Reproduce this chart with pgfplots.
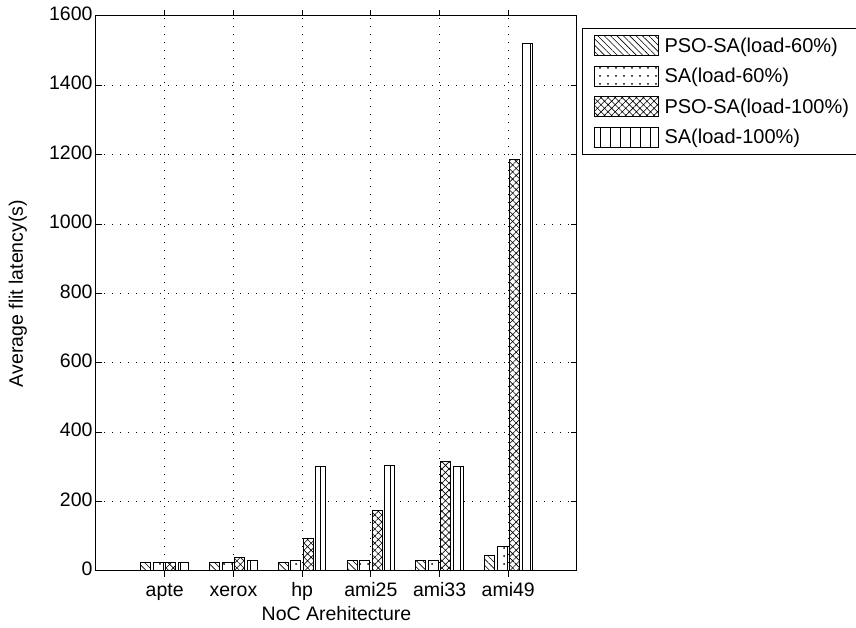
\documentclass[border=0pt]{standalone}
\usepackage{fontspec}
\setmainfont{Liberation Sans}
\usepackage{pgfplots}
\usepackage{pgfplotstable}
\pgfplotsset{compat=1.18}
\usetikzlibrary{patterns.meta}

\pgfplotsset{/pgfplots/ybar legend/.style={/pgfplots/legend image code/.code={\draw[##1] (0pt,-10pt) rectangle (64pt,10pt);}}}

\pgfplotstableread{
x a b c d
1 24 24 24 24
2 24 24 38 30
3 24 30 93 300
4 30 30 173 305
5 30 30 317 302
6 44 70 1185 1520
}\data

\newcommand{\ff}{\fontsize{19.5}{23}\selectfont}
\newcommand{\fl}{\fontsize{20}{23}\selectfont}

\begin{document}
\begin{tikzpicture}
\begin{axis}[
  name=ax,
  scale only axis,
  width=481pt, height=555pt,
  xmin=0, xmax=7, ymin=0, ymax=1600,
  xtick={1,2,3,4,5,6},
  xticklabels={apte,xerox,hp,ami25,ami33,ami49},
  ytick={0,200,400,600,800,1000,1200,1400,1600},
  scaled y ticks=false,
  yticklabel style={/pgf/number format/.cd,1000 sep={},assume math mode=true},
  typeset ticklabels with strut,
  tick label style={font=\ff},
  label style={font=\ff},
  xlabel={NoC Arehitecture},
  ylabel={Average flit latency(s)},
  xlabel style={at={(axis description cs:0.5,0)},anchor=base,yshift=-50pt},
  ylabel style={at={(axis description cs:0,0.5)},anchor=base,yshift=73pt},
  tick align=inside,
  major tick length=6pt,
  tick style={black,line width=1pt},
  axis line style={black,line width=1pt},
  xmajorgrids, ymajorgrids,
  grid style={black,line width=1pt,dash pattern=on 1pt off 7pt},
  ybar, bar width=0.145, bar shift=0pt,
  every axis plot/.append style={draw=black,fill=white,line width=1pt},
  legend image code/.code={\draw[#1] (0pt,-10pt) rectangle (64pt,10pt);},
  legend style={at={(1.0104,0.979)},anchor=north west,draw=black,line width=1pt,
    font=\fl,nodes={inner sep=0pt,anchor=west},row sep=9.5pt,column sep=6pt,
    inner xsep=11pt,inner ysep=7pt},
  legend cell align=left,
]
\addplot[postaction={pattern={Lines[angle=-45,distance=4.5pt,line width=0.6pt]},pattern color=black}]
  table[x expr=\thisrow{x}-0.273,y=a]{\data};
\addplot[postaction={pattern={Dots[distance=8pt,radius=1pt]},pattern color=black}]
  table[x expr=\thisrow{x}-0.091,y=b]{\data};
\addplot[postaction={pattern={Hatch[angle=45,distance=5pt,line width=0.6pt]},pattern color=black}]
  table[x expr=\thisrow{x}+0.091,y=c]{\data};
\addplot[postaction={pattern={Lines[angle=90,distance=10pt,line width=0.8pt]},pattern color=black}]
  table[x expr=\thisrow{x}+0.273,y=d]{\data};
\legend{PSO-SA(load-60\%),SA(load-60\%),PSO-SA(load-100\%),SA(load-100\%)}
\end{axis}
\pgfresetboundingbox
\path[use as bounding box] ([xshift=-96pt,yshift=-57pt]ax.south west) rectangle ([xshift=279pt,yshift=16pt]ax.north east);
\end{tikzpicture}
\end{document}
